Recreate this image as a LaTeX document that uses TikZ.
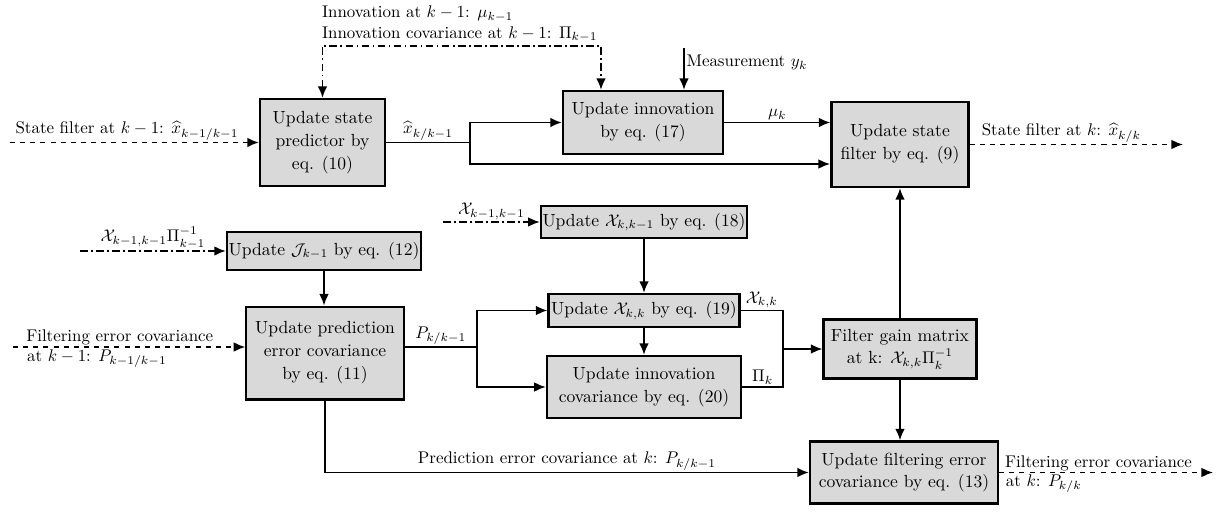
\documentclass[tikz,border=0pt]{standalone}
\usepackage{amsmath,amssymb}
\usetikzlibrary{positioning,arrows.meta}
\definecolor{boxgray}{RGB}{217,217,217}

\begin{document}
\begin{tikzpicture}[x=0.0208cm, y=-0.0208cm,
        box/.style = {rectangle, draw, line width=1.3pt, fill=boxgray,
                     align=center, inner sep=1pt,
                     font=\fontsize{10.4}{13.6}\selectfont},
        lbl/.style = {inner sep=1pt},
       flow/.style = {line width=1pt, -{Latex[length=2.4mm,width=2mm]}},
       link/.style = {line width=1pt},
         dd/.style = {dash pattern=on 4.5pt off 2pt on 1pt off 2pt}
                        ]
\useasboundingbox (0,0) rectangle (1220,524);
% boxes
\node (pred) [box, minimum width=2.60cm, minimum height=1.81cm] at (322.5,142.5) {Update state\\ predictor by\\ eq. (10)};
\node (innov) [box, minimum width=3.33cm, minimum height=1.31cm] at (643,122.5) {Update innovation\\ by eq. (17)};
\node (filt) [box, minimum width=2.85cm, minimum height=1.77cm] at (900,144.5) {Update state\\ filter by eq. (9)};
\node (jac) [box, minimum width=3.99cm, minimum height=0.79cm] at (324,251) {Update $\mathcal{J}_{k-1}$ by eq. (12)};
\node (pcov) [box, minimum width=3.27cm, minimum height=1.93cm] at (325,353) {Update prediction\\ error covariance\\ by eq. (11)};
\node (xpred) [box, minimum width=4.18cm, minimum height=0.67cm] at (644,222) {Update $\mathcal{X}_{k,k-1}$ by eq. (18)};
\node (xfilt) [box, minimum width=3.97cm, minimum height=0.69cm] at (644,310.5) {Update $\mathcal{X}_{k,k}$ by eq. (19)};
\node (icov) [box, minimum width=4.04cm, minimum height=1.29cm] at (644,387) {Update innovation\\ covariance by eq. (20)};
\node (gain) [box, minimum width=3.18cm, minimum height=1.23cm] at (900,349) {Filter gain matrix\\ at k: $\mathcal{X}_{k,k}\Pi_k^{-1}$};
\node (fcov) [box, minimum width=3.91cm, minimum height=1.29cm] at (904,472.5) {Update filtering error\\ covariance by eq. (13)};
% free ends and junctions
\coordinate (xin) at (10,142.5);
\coordinate (xout) at (1183,144.5);
\coordinate (xj) at (470,142.5);
\coordinate (fin) at (830,164);
\coordinate (prevtop) at (601,46);
\coordinate (ymeas) at (684,48);
\coordinate (jin) at (80,251);
\coordinate (pin) at (13,347);
\coordinate (pj) at (477,347);
\coordinate (xin2) at (443,222);
\coordinate (mj) at (783,349);
\coordinate (pout) at (1213,472.5);
% state part
\node (prevlbl) [lbl, anchor=south west, align=left] at (320,44) {Innovation at $k-1$: $\mu_{k-1}$\\ Innovation covariance at $k-1$: $\Pi_{k-1}$};
\draw[dd, line width=1pt, {Latex[length=2.4mm,width=2mm]}-{Latex[length=2.4mm,width=2mm]}] (pred.north) |- (prevtop) -- (prevtop |- innov.north);
\draw[flow] (ymeas) -- node[lbl, right, pos=0.35] {Measurement $y_k$} (ymeas |- innov.north);
\draw[flow, dashed] (xin) -- node[lbl, above, pos=0.47] {State filter at $k-1$: $\widehat{x}_{k-1/k-1}$} (pred.west);
\draw[link] (pred.east) -- node[lbl, above] {$\widehat{x}_{k/k-1}$} (xj);
\draw[flow] (xj) |- (innov.west);
\draw[flow] (xj) |- (fin);
\draw[flow] (innov.east) -- node[lbl, above] {$\mu_k$} (innov.east -| filt.west);
\draw[flow, dashed] (filt.east) -- node[lbl, above, pos=0.43] {State filter at $k$: $\widehat{x}_{k/k}$} (xout);
% covariance part
\draw[flow, dd] (jin) -- node[lbl, above] {$\mathcal{X}_{k-1,k-1}\Pi_{k-1}^{-1}$} (jac.west);
\draw[flow] (jac.south) -- (jac.south |- pcov.north);
\draw[flow, dashed] (pin) -- node[inner sep=0.5pt, above right, pos=0.05] {Filtering error covariance}
    node[lbl, below right, pos=0.05] {at $k-1$: $P_{k-1/k-1}$} (pin -| pcov.west);
\draw[link] (pcov.east |- pj) -- node[lbl, above] {$P_{k/k-1}$} (pj);
\draw[flow] (pj) |- (xfilt.west);
\draw[flow] (pj) |- (icov.west);
\draw[flow, dd] (xin2) -- node[lbl, above] {$\mathcal{X}_{k-1,k-1}$} (xpred.west);
\draw[flow] (xpred) -- (xfilt);
\draw[flow] (xfilt) -- (icov);
\draw[link] (xfilt.east) -- node[lbl, above] {$\mathcal{X}_{k,k}$} (xfilt.east -| mj) -- (mj);
\draw[link] (icov.east) -- node[lbl, above] {$\Pi_k$} (icov.east -| mj) -- (mj);
\draw[flow] (mj) -- (gain.west);
\draw[flow] (gain.north) -- (gain.north |- filt.south);
\draw[flow] (gain.south) -- (gain.south |- fcov.north);
\draw[flow] (pcov.south) |- node[lbl, above, pos=0.75] {Prediction error covariance at $k$: $P_{k/k-1}$} (fcov.west);
\draw[flow, dashed] (fcov.east) -- node[inner sep=0.5pt, above right, pos=0.02] {Filtering error covariance}
    node[lbl, below right, pos=0.02] {at $k$: $P_{k/k}$} (pout);
\end{tikzpicture}
\end{document}
